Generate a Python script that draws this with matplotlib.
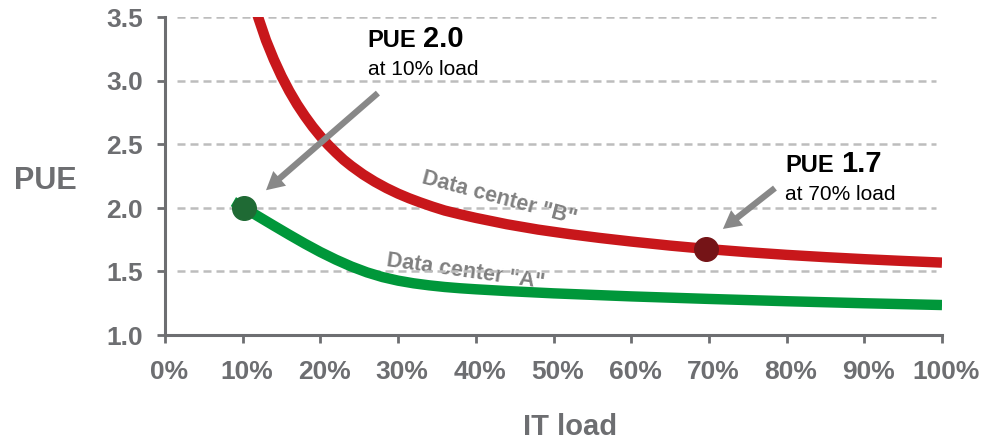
import matplotlib
matplotlib.use("Agg")
import matplotlib.pyplot as plt
import matplotlib.transforms as mtransforms

plt.rcParams["font.family"] = ["Liberation Sans", "DejaVu Sans"]

# values (IT load in %, PUE)
load_b = [11.8, 12.0, 12.5, 13.0, 13.5, 14, 15, 16, 17, 18, 19, 20, 21, 22, 23, 24, 25.5, 27, 28.5,
          30, 31.4, 32.8, 34.4, 36, 38, 40, 44, 48, 52, 56, 60, 65, 70, 75, 80, 85, 90, 95, 100]
pue_b = [3.54, 3.50, 3.41, 3.32, 3.245, 3.17, 3.037, 2.92, 2.816, 2.724, 2.64, 2.565, 2.497, 2.436,
         2.379, 2.33, 2.264, 2.207, 2.157, 2.113, 2.077, 2.045, 2.011, 1.980, 1.950, 1.922, 1.872,
         1.830, 1.795, 1.764, 1.736, 1.704, 1.676, 1.652, 1.631, 1.613, 1.597, 1.583, 1.57]

load_a = [8.8, 10.2, 12, 14, 16, 18, 20, 22, 24, 26, 28, 30, 32, 34, 36, 38, 40, 44, 50,
          60, 70, 80, 90, 100]
pue_a = [2.05, 2.0, 1.934, 1.861, 1.789, 1.719, 1.653, 1.593, 1.539, 1.493, 1.456, 1.428, 1.407,
         1.391, 1.378, 1.368, 1.36, 1.346, 1.328, 1.304, 1.284, 1.266, 1.25, 1.236]

point_a = (10.2, 2.0)
point_b = (69.6, 1.678)

x_ticks = [0, 10, 20, 30, 40, 50, 60, 70, 80, 90, 100]
x_labels = [f"{t}%" for t in x_ticks]
y_ticks = [1.0, 1.5, 2.0, 2.5, 3.0, 3.5]
y_labels = [f"{t:.1f}" for t in y_ticks]
grid_vals = [1.5, 2.0, 2.5, 3.0, 3.5]

axis_grey = "#6D6E71"
red = "#C8171B"
green = "#00973A"

fig = plt.figure(figsize=(9.99, 4.40), dpi=100)
ax = fig.add_axes([165 / 999, 1 - 335 / 440, (942 - 165) / 999, (335 - 17.5) / 440])
ax.set_xlim(0, 100)
ax.set_ylim(1.0, 3.5)

ax.hlines(grid_vals, 1.5, 99.2, colors="#BDBDBD", linewidth=1.8,
          linestyles=(0, (3.2, 2.0)), zorder=1)

ax.plot(load_b, pue_b, color=red, lw=7.5, solid_capstyle="butt", solid_joinstyle="round", zorder=3)
ax.plot(load_a, pue_a, color=green, lw=7.5, solid_capstyle="butt", solid_joinstyle="round", zorder=3)
ax.plot(*point_a, "o", color="#1F6A34", ms=17, zorder=4)
ax.plot(*point_b, "o", color="#751417", ms=17, zorder=4)

# curve labels
ax.text(43.1, 2.08, 'Data center "B"', rotation=-15, color="#808080", fontsize=15.5,
        fontweight="bold", ha="center", va="center", rotation_mode="anchor", zorder=2)
ax.text(38.7, 1.50, 'Data center "A"', rotation=-8, color="#808080", fontsize=15.5,
        fontweight="bold", ha="center", va="center", rotation_mode="anchor", zorder=0)

# callouts
arrow = dict(arrowstyle="simple,head_width=1.4,head_length=1.3,tail_width=0.45",
             color="#888888", lw=0, shrinkA=0, shrinkB=0)
ax.annotate("", xy=(13.0, 2.14), xytext=(27.4, 2.905), arrowprops=arrow, zorder=5)
ax.annotate("", xy=(71.8, 1.835), xytext=(78.5, 2.157), arrowprops=arrow, zorder=5)

ax.text(26.1, 3.27, "PUE", fontsize=17, fontweight="bold", color="black", va="baseline")
ax.text(33.2, 3.27, "2.0", fontsize=21, fontweight="bold", color="black", va="baseline")
ax.text(26.1, 3.05, "at 10% load", fontsize=15, color="black", va="baseline")
ax.text(79.8, 2.287, "PUE", fontsize=17, fontweight="bold", color="black", va="baseline")
ax.text(87.0, 2.287, "1.7", fontsize=21, fontweight="bold", color="black", va="baseline")
ax.text(79.8, 2.065, "at 70% load", fontsize=15, color="black", va="baseline")

for side in ["top", "right"]:
    ax.spines[side].set_visible(False)
for side in ["left", "bottom"]:
    ax.spines[side].set_color(axis_grey)
    ax.spines[side].set_linewidth(2.2)

ax.set_xticks(x_ticks)
ax.set_xticklabels(x_labels)
ax.set_yticks(y_ticks)
ax.set_yticklabels(y_labels)
ax.tick_params(axis="both", direction="out", length=6, width=2, color=axis_grey,
               labelcolor=axis_grey, labelsize=19)
ax.tick_params(axis="x", pad=12)
ax.tick_params(axis="y", pad=10)
for lab in ax.get_xticklabels() + ax.get_yticklabels():
    lab.set_fontweight("bold")
shift = mtransforms.ScaledTranslation(4 / 100, 0, fig.dpi_scale_trans)
for lab in ax.get_xticklabels():
    lab.set_transform(lab.get_transform() + shift)

fig.text(45 / 999, 1 - 181 / 440, "PUE", fontsize=22, fontweight="bold",
         color=axis_grey, ha="center", va="center")
fig.text(570 / 999, 1 - 435 / 440, "IT load", fontsize=21, fontweight="bold",
         color=axis_grey, ha="center", va="baseline")

fig.savefig("out.png", dpi=100)
